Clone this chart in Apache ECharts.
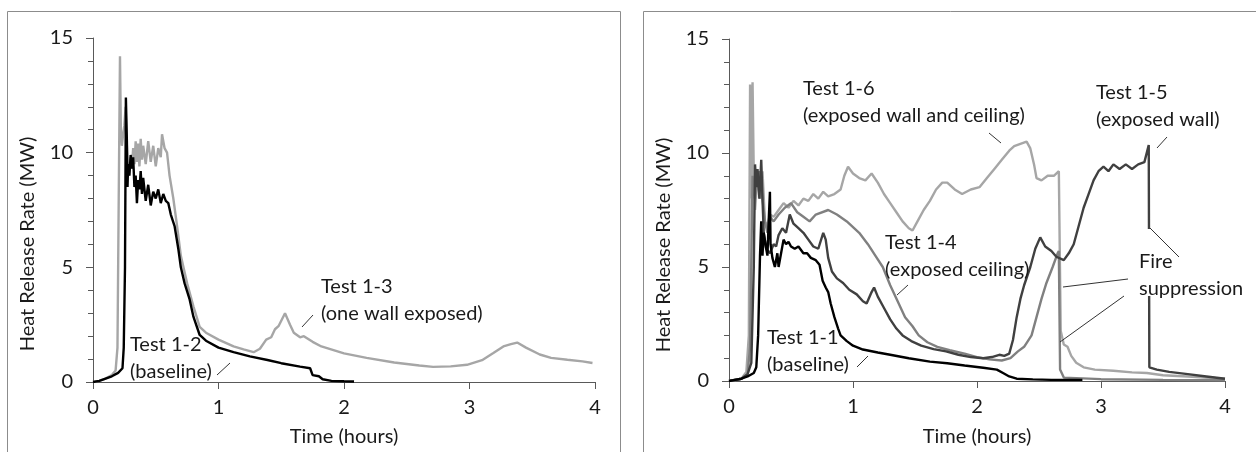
<!DOCTYPE html>
<html>
<head>
<meta charset="utf-8">
<script src="https://cdn.jsdelivr.net/npm/echarts@6/dist/echarts.min.js"></script>
<style>
  html, body { margin: 0; padding: 0; background: #fff; }
  #chart { width: 1256px; height: 452px; }
</style>
</head>
<body>
<div id="chart"></div>
<script>
// Values: [time (hours), heat release rate (MW)]

// left panel
const test12 = [[0,0],[0.05,0.05],[0.1,0.15],[0.15,0.25],[0.2,0.4],[0.235,0.6],[0.245,1.5],[0.255,5],[0.262,12.4],
  [0.27,10.5],[0.275,8.5],[0.28,9.5],[0.29,9.0],[0.3,9.9],[0.31,9.3],[0.32,9.8],[0.33,8.5],[0.34,9.0],[0.35,7.8],
  [0.36,8.8],[0.37,8.4],[0.38,9.2],[0.39,8.2],[0.4,8.9],[0.42,7.9],[0.44,8.6],[0.46,7.7],[0.48,8.3],[0.5,8.0],
  [0.52,8.4],[0.54,7.8],[0.56,8.2],[0.58,7.9],[0.6,7.8],[0.62,7.3],[0.65,6.8],[0.68,5.8],[0.7,5.0],[0.73,4.3],
  [0.77,3.6],[0.8,2.85],[0.85,2.05],[0.9,1.8],[1.0,1.5],[1.12,1.3],[1.25,1.12],[1.39,0.96],[1.5,0.82],[1.65,0.67],
  [1.73,0.6],[1.75,0.3],[1.8,0.25],[1.83,0.12],[1.9,0.05],[2.0,0.03],[2.08,0.02]];

const test13 = [[0,0],[0.05,0.05],[0.1,0.15],[0.15,0.3],[0.18,0.5],[0.195,1.5],[0.205,8],[0.215,14.2],[0.222,11],
  [0.23,10.3],[0.24,10.8],[0.25,11.2],[0.26,12.0],[0.265,11.0],[0.275,9.6],[0.285,9.0],[0.3,9.8],[0.31,9.3],
  [0.32,10.2],[0.33,9.5],[0.34,10.5],[0.35,9.6],[0.36,10.4],[0.37,9.4],[0.38,10.6],[0.39,9.7],[0.4,10.3],
  [0.42,9.5],[0.44,10.5],[0.46,9.6],[0.48,10.3],[0.5,9.4],[0.52,10.2],[0.54,9.8],[0.55,10.8],[0.57,10.2],
  [0.59,10.0],[0.61,9.0],[0.64,8.0],[0.67,6.8],[0.7,5.5],[0.75,4.3],[0.8,3.3],[0.85,2.4],[0.9,2.15],[1.0,1.85],
  [1.12,1.55],[1.2,1.42],[1.28,1.3],[1.33,1.45],[1.38,1.85],[1.42,1.95],[1.45,2.3],[1.48,2.45],[1.53,3.0],
  [1.57,2.5],[1.6,2.15],[1.65,1.95],[1.68,2.0],[1.75,1.75],[1.82,1.55],[1.91,1.4],[2.0,1.25],[2.18,1.05],
  [2.4,0.85],[2.6,0.72],[2.71,0.66],[2.85,0.68],[2.98,0.75],[3.1,0.95],[3.19,1.26],[3.27,1.55],[3.33,1.65],
  [3.38,1.72],[3.45,1.5],[3.56,1.2],[3.65,1.05],[3.78,0.97],[3.9,0.9],[3.98,0.83]];

// right panel
const test11 = [[0,0],[0.05,0.05],[0.1,0.1],[0.15,0.2],[0.2,0.35],[0.22,0.6],[0.235,2],[0.25,5.5],[0.26,7.0],
  [0.27,5.5],[0.28,6.5],[0.3,5.8],[0.31,5.5],[0.32,7.0],[0.33,8.3],[0.335,6.0],[0.35,5.4],[0.37,5.0],[0.39,5.6],
  [0.4,5.0],[0.42,5.6],[0.44,6.2],[0.46,6.0],[0.48,6.1],[0.5,5.9],[0.53,5.8],[0.56,5.9],[0.6,5.6],[0.63,5.6],
  [0.66,5.4],[0.7,5.3],[0.73,5.1],[0.755,4.4],[0.78,4.1],[0.8,3.9],[0.82,3.4],[0.85,2.8],[0.88,2.3],[0.9,2.0],
  [0.95,1.75],[1.0,1.55],[1.08,1.38],[1.2,1.25],[1.3,1.15],[1.45,1.0],[1.62,0.85],[1.76,0.78],[1.9,0.68],
  [2.05,0.58],[2.16,0.5],[2.21,0.35],[2.26,0.2],[2.32,0.1],[2.45,0.07],[2.6,0.05],[2.85,0.05]];

const test14 = [[0,0],[0.1,0.1],[0.15,0.3],[0.17,1.5],[0.19,9.0],[0.21,8.0],[0.24,9.2],[0.26,8.5],[0.29,7.0],
  [0.31,6.5],[0.33,7.2],[0.36,7.0],[0.4,7.3],[0.45,7.6],[0.5,7.8],[0.55,7.4],[0.6,7.2],[0.65,7.0],[0.7,7.3],
  [0.8,7.5],[0.87,7.3],[0.95,7.0],[1.05,6.5],[1.12,6.0],[1.18,5.5],[1.24,5.0],[1.3,4.2],[1.36,3.5],[1.42,2.8],
  [1.48,2.4],[1.53,2.0],[1.6,1.7],[1.68,1.5],[1.78,1.35],[1.9,1.2],[2.0,1.05],[2.1,0.95],[2.2,0.9],[2.27,1.0],
  [2.33,1.3],[2.38,1.5],[2.44,2.0],[2.48,2.8],[2.52,3.6],[2.56,4.3],[2.61,5.0],[2.65,5.6],[2.66,5.7],[2.67,0.5],
  [2.7,0.15],[3.0,0.08],[3.5,0.05],[4.0,0.03]];

const test15 = [[0,0],[0.1,0.1],[0.15,0.3],[0.18,0.8],[0.2,5],[0.21,9.5],[0.22,8.5],[0.23,9.3],[0.245,8.0],
  [0.26,9.7],[0.27,8.0],[0.28,6.5],[0.3,5.8],[0.33,5.6],[0.36,6.0],[0.38,5.9],[0.4,6.4],[0.43,6.7],[0.46,6.5],
  [0.49,7.3],[0.52,6.9],[0.56,6.7],[0.6,6.5],[0.64,6.2],[0.68,5.9],[0.72,5.8],[0.76,6.5],[0.78,6.2],[0.8,5.4],
  [0.83,4.8],[0.87,4.5],[0.92,4.3],[0.97,4.0],[1.03,3.8],[1.08,3.5],[1.11,3.4],[1.15,3.9],[1.17,4.1],[1.2,3.7],
  [1.25,3.2],[1.3,2.7],[1.35,2.3],[1.4,2.0],[1.47,1.75],[1.55,1.55],[1.65,1.4],[1.75,1.3],[1.85,1.15],[1.95,1.05],
  [2.05,1.0],[2.12,1.05],[2.18,1.15],[2.22,1.1],[2.26,1.2],[2.29,1.8],[2.32,2.8],[2.35,3.6],[2.38,4.2],[2.43,5.0],
  [2.47,5.8],[2.51,6.3],[2.55,5.9],[2.6,5.7],[2.64,5.45],[2.7,5.3],[2.74,5.6],[2.78,6.0],[2.82,6.8],[2.86,7.6],
  [2.9,8.2],[2.94,8.8],[2.98,9.2],[3.02,9.4],[3.06,9.2],[3.1,9.5],[3.15,9.3],[3.2,9.5],[3.25,9.3],[3.3,9.5],
  [3.35,9.6],[3.385,10.35],[3.39,0.6],[3.45,0.5],[3.55,0.4],[3.7,0.3],[3.85,0.2],[4.0,0.1]];

const test16 = [[0,0],[0.1,0.1],[0.14,0.4],[0.16,2],[0.17,13.0],[0.18,8],[0.19,13.1],[0.2,9],[0.21,7.5],[0.23,9.0],
  [0.25,8.0],[0.27,9.2],[0.29,7.0],[0.31,6.8],[0.33,7.3],[0.36,7.2],[0.4,7.5],[0.44,7.8],[0.48,7.6],[0.52,7.9],
  [0.56,7.7],[0.6,8.0],[0.64,7.9],[0.68,8.2],[0.72,8.0],[0.76,8.3],[0.8,8.1],[0.85,8.2],[0.9,8.4],[0.93,9.0],
  [0.96,9.4],[1.0,9.1],[1.05,8.9],[1.1,8.8],[1.15,9.1],[1.2,8.7],[1.25,8.2],[1.3,7.8],[1.35,7.4],[1.4,7.0],
  [1.45,6.7],[1.48,6.6],[1.52,7.0],[1.57,7.5],[1.62,7.9],[1.67,8.4],[1.72,8.7],[1.76,8.7],[1.82,8.4],[1.88,8.2],
  [1.95,8.4],[2.02,8.5],[2.08,8.9],[2.14,9.3],[2.2,9.7],[2.26,10.1],[2.3,10.3],[2.35,10.4],[2.4,10.5],[2.43,10.2],
  [2.46,9.5],[2.48,8.9],[2.52,8.8],[2.57,9.0],[2.62,9.0],[2.66,9.2],[2.675,2.2],[2.7,1.6],[2.73,1.5],[2.76,1.1],
  [2.8,0.8],[2.86,0.6],[2.95,0.5],[3.1,0.45],[3.25,0.38],[3.37,0.35],[3.5,0.25],[3.7,0.2],[4.0,0.1]];

const FONT = 'Lato, "Open Sans", sans-serif';
const FS = 20;
const TEXT = '#1a1a1a';
const AXIS = '#595959';
const LIGHT = '#a6a6a6', MID = '#808080', DARK = '#404040', BLACK = '#000';

function xAxisCfg(gridIndex) {
    return {
        gridIndex, type: 'value', min: 0, max: 4, interval: 1,
        axisLine: { show: true, onZero: false, lineStyle: { color: AXIS, width: 1 } },
        axisTick: { show: true, length: 7, lineStyle: { color: AXIS } },
        axisLabel: { color: TEXT, fontSize: FS, fontFamily: FONT, margin: 16 },
        splitLine: { show: false }
    };
}

function yAxisCfg(gridIndex) {
    return {
        gridIndex, type: 'value', min: 0, max: 15, interval: 5,
        axisLine: { show: true, lineStyle: { color: AXIS, width: 1 } },
        axisTick: { show: true, length: 7, lineStyle: { color: AXIS } },
        minorTick: { show: true, splitNumber: 5, length: 5, lineStyle: { color: AXIS } },
        axisLabel: { color: TEXT, fontSize: FS, fontFamily: FONT, margin: 20 },
        splitLine: { show: false },
        minorSplitLine: { show: false }
    };
}

function line(name, data, color, idx) {
    return {
        name, type: 'line', data, xAxisIndex: idx, yAxisIndex: idx,
        showSymbol: false, symbol: 'none', silent: true,
        lineStyle: { color, width: 2.4 }
    };
}

function label(x, y, text) {
    return {
        type: 'text', x, y, z: 100,
        style: { text, fill: TEXT, font: FS + 'px ' + FONT, lineHeight: 27, textVerticalAlign: 'top' }
    };
}

function leader(x1, y1, x2, y2) {
    return { type: 'line', z: 101, shape: { x1, y1, x2, y2 }, style: { stroke: '#333', lineWidth: 1 } };
}

function title(x, y, text, vertical) {
    return {
        type: 'text', z: 100, x, y, rotation: vertical ? Math.PI / 2 : 0,
        style: { text, fill: TEXT, font: FS + 'px ' + FONT, align: 'center', verticalAlign: 'middle' }
    };
}

const chart = echarts.init(document.getElementById('chart'), null, { renderer: 'canvas' });
chart.setOption({
    animation: false,
    textStyle: { fontFamily: FONT },
    grid: [
        { left: 93, top: 38, width: 502, height: 344 },
        { left: 729, top: 39, width: 496, height: 342 }
    ],
    xAxis: [xAxisCfg(0), xAxisCfg(1)],
    yAxis: [yAxisCfg(0), yAxisCfg(1)],
    series: [
        line('Test 1-3', test13, LIGHT, 0),
        line('Test 1-2', test12, BLACK, 0),
        line('Test 1-6', test16, LIGHT, 1),
        line('Test 1-4', test14, MID, 1),
        line('Test 1-5', test15, DARK, 1),
        line('Test 1-1', test11, BLACK, 1)
    ],
    graphic: [
        // panel frames
        { type: 'rect', z: 0, silent: true, shape: { x: 7.5, y: 11.5, width: 613, height: 460 },
          style: { fill: null, stroke: '#8c8c8c', lineWidth: 1 } },
        { type: 'rect', z: 0, silent: true, shape: { x: 643.5, y: 11.5, width: 640, height: 460 },
          style: { fill: null, stroke: '#8c8c8c', lineWidth: 1 } },
        // axis titles
        title(28, 244, 'Heat Release Rate (MW)', true),
        title(664, 245, 'Heat Release Rate (MW)', true),
        title(344, 437, 'Time (hours)'),
        title(977, 437, 'Time (hours)'),
        // annotations, left
        label(130, 331.5, 'Test 1-2\n(baseline)'),
        leader(217, 375, 230, 363),
        label(321, 273.5, 'Test 1-3\n(one wall exposed)'),
        leader(302, 327, 313, 315),
        // annotations, right
        label(803, 75.5, 'Test 1-6\n(exposed wall and ceiling)'),
        leader(989, 133, 1001, 143),
        label(885, 229.5, 'Test 1-4\n(exposed ceiling)'),
        leader(897, 295, 908, 285),
        label(767, 324.5, 'Test 1-1\n(baseline)'),
        leader(857, 367, 868, 356),
        label(1096, 79.5, 'Test 1-5\n(exposed wall)'),
        leader(1157, 148, 1167, 137),
        { type: 'rect', z: 99, silent: true, shape: { x: 1133, y: 229, width: 115, height: 67 },
          style: { fill: '#fff', stroke: null } },
        label(1139, 248.5, 'Fire\nsuppression'),
        leader(1128, 279, 1063, 287),
        leader(1124, 296, 1060, 342),
        leader(1179, 257, 1150, 228)
    ]
});
</script>
</body>
</html>
